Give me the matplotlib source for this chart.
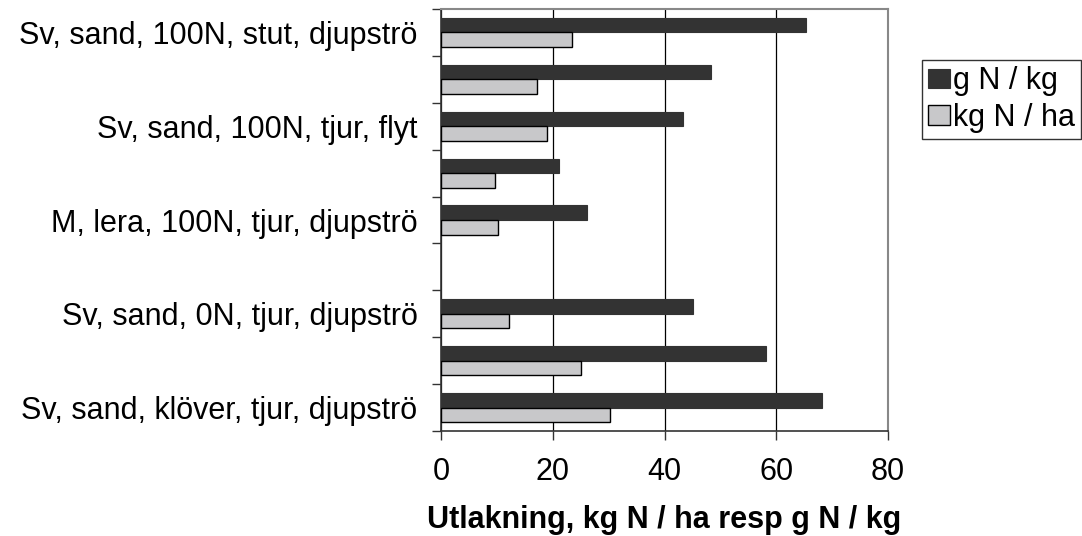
import matplotlib
matplotlib.use('Agg')
import matplotlib.pyplot as plt
import numpy as np

plt.rcParams['font.family'] = ['Liberation Sans', 'DejaVu Sans']

# categories from top to bottom (only every other label is shown in the original)
categories = ['Sv, sand, 100N, stut, djupströ', '', 'Sv, sand, 100N, tjur, flyt', '',
              'M, lera, 100N, tjur, djupströ', '', 'Sv, sand, 0N, tjur, djupströ', '',
              'Sv, sand, klöver, tjur, djupströ']
g_per_kg = [65.3, 48.3, 43.3, 21.2, 26.2, np.nan, 45.1, 58.1, 68.2]
kg_per_ha = [23.4, 17.2, 19.0, 9.7, 10.2, np.nan, 12.1, 25.1, 30.2]
x_ticks = [0, 20, 40, 60, 80]

fig = plt.figure(figsize=(10.82, 5.36), dpi=100)
ax = fig.add_axes([0.4076, 0.1959, 0.4131, 0.7873])

y = np.arange(len(categories))
h = 0.31
ax.barh(y - h / 2, g_per_kg, height=h, color='#333333', edgecolor='#333333', linewidth=0.8,
        label='g N / kg', zorder=3)
ax.barh(y + h / 2, kg_per_ha, height=h, color='#c8c8ca', edgecolor='black', linewidth=1.0,
        label='kg N / ha', zorder=3)

ax.set_ylim(len(categories) - 0.5, -0.5)
ax.set_xlim(0, 80)
ax.set_xticks(x_ticks)
ax.xaxis.grid(True, color='black', linewidth=0.9, zorder=0)

# ticks at the category boundaries, labels at the centres
ax.set_yticks(np.arange(len(categories) + 1) - 0.5)
ax.set_yticklabels([])
ax.set_yticks(y, minor=True)
ax.set_yticklabels(categories, minor=True, fontsize=22)
ax.tick_params(axis='y', which='major', length=6.5, width=1, color='#333333', direction='out')
ax.tick_params(axis='y', which='minor', length=0, pad=17)
ax.tick_params(axis='x', length=6.5, width=1, color='#333333', labelsize=22, pad=12)

for s in ['left', 'bottom']:
    ax.spines[s].set_color('#333333')
    ax.spines[s].set_linewidth(1.2)
for s in ['top', 'right']:
    ax.spines[s].set_color('#888888')
    ax.spines[s].set_linewidth(1.5)

ax.set_xlabel('Utlakning, kg N / ha resp g N / kg', fontsize=22, fontweight='bold', labelpad=13)

leg = fig.legend(loc='upper left', bbox_to_anchor=(922 / 1082, 1 - 60 / 536), fontsize=22,
                 frameon=True, fancybox=False, handlelength=0.7, handleheight=0.6,
                 handletextpad=0.12, borderpad=0.2, labelspacing=0.22, borderaxespad=0)
leg.get_frame().set_edgecolor('black')
leg.get_frame().set_linewidth(1.0)

fig.savefig('out.png', dpi=100)
